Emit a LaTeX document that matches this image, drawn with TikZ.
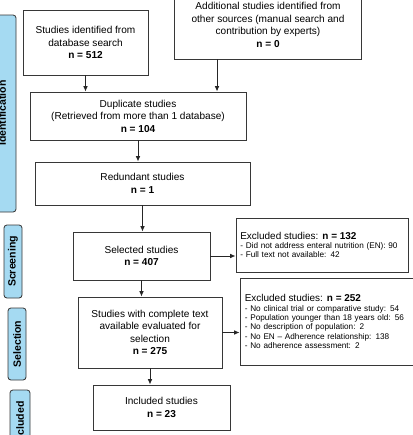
\documentclass[tikz,border=0pt]{standalone}
\usepackage{fontspec}
\setmainfont{Liberation Sans}
\usetikzlibrary{arrows.meta, calc, positioning}
\definecolor{faseAzul}{RGB}{165,218,242}
\definecolor{bordeGris}{RGB}{55,55,55}

\begin{document}
\begin{tikzpicture}[x=0.3mm, y=-0.3mm,
    caja/.style={draw=bordeGris, line width=0.8pt, fill=white, align=center,
        inner sep=2pt, font=\fontsize{8.6}{10.6}\selectfont},
    excluida/.style={caja, align=left, font=\fontsize{7}{8}\selectfont},
    fase/.style={draw=bordeGris, line width=0.7pt, fill=faseAzul, rounded corners=2.5pt},
    etiqueta/.style={rotate=90, font=\bfseries\fontsize{9}{10}\selectfont},
    flecha/.style={-{Latex[length=1.6mm, width=1.4mm]}, line width=0.8pt, draw=black!85}]

    \useasboundingbox (0,0) rectangle (413,435);
    \clip (0,0) rectangle (413,435);

    % FASES
    \filldraw[fase] (-8,15) rectangle (16,212);
    \node[etiqueta] (tIdent) at (2,113) {Identification};
    \filldraw[fase] (4,225) rectangle (22,298);
    \node[etiqueta] (tScreen) at (13,261.5) {Screening};
    \filldraw[fase] (8,308) rectangle (26,380);
    \node[etiqueta] (tSelec) at (17,344) {Selection};
    \filldraw[fase] (10,390) rectangle (30,455);
    \node[etiqueta] (tIncl) at (20,423) {Included};

    % IDENTIFICACION
    \node[caja, minimum width=37.5mm, minimum height=19.5mm] (bases) at (85.5,42.5)
        {Studies identified from\\database search\\\textbf{n = 512}};
    \node[caja, minimum width=56.1mm, minimum height=20.4mm] (otras) at (268,25)
        {Additional studies identified from\\other sources (manual search and\\contribution by experts)\\\textbf{n = 0}};
    \node[caja, minimum width=64.8mm, minimum height=14.4mm] (duplic) at (138,116)
        {Duplicate studies\\(Retrieved from more than 1 database)\\\textbf{n = 104}};
    \node[caja, minimum width=64.5mm, minimum height=12.9mm] (redund) at (142.5,183.5)
        {Redundant studies\\\textbf{n = 1}};

    % SCREENING
    \node[caja, minimum width=41.1mm, minimum height=14.4mm] (selec) at (141.5,256)
        {Selected studies\\\textbf{n = 407}};
    \node[excluida, minimum width=51.6mm, minimum height=16.2mm, text width=49mm] (excl1) at (322,245)
        {{\fontsize{8.5}{9.5}\selectfont Excluded studies: \textbf{n = 132}}\\
         - Did not address enteral nutrition (EN): 90\\
         - Full text not available: 42};

    % SELECCION
    \node[caja, minimum width=43.2mm, minimum height=21.3mm] (complet) at (150,332.5)
        {Studies with complete text\\available evaluated for\\selection\\\textbf{n = 275}};
    \node[excluida, minimum width=51.9mm, minimum height=26.1mm, text width=49mm] (excl2) at (326.5,321.5)
        {{\fontsize{8.5}{9.5}\selectfont Excluded studies: \textbf{n = 252}}\\
         - No clinical trial or comparative study: 54\\
         - Population younger than 18 years old: 56\\
         - No description of population: 2\\
         - No EN -- Adherence relationship: 138\\
         - No adherence assessment: 2};

    % INCLUIDOS
    \node[caja, minimum width=41.1mm, minimum height=13.5mm] (incl) at (161.5,407.5)
        {Included studies\\\textbf{n = 23}};

    % FLECHAS
    \coordinate (bajaOtras) at ($(otras.south west)+(43,0)$);
    \draw[flecha] (bases.south) -- (bases.south |- duplic.north);
    \draw[flecha] (bajaOtras) -- (bajaOtras |- duplic.north);
    \draw[flecha] (duplic.south) -- (duplic.south |- redund.north);
    \draw[flecha] (redund.south) -- (redund.south |- selec.north);
    \draw[flecha] (selec.south) -- (selec.south |- complet.north);
    \draw[flecha] (complet.south) -- (complet.south |- incl.north);
    \draw[flecha] (selec.east) -- (selec.east -| excl1.west);
    \draw[flecha] (complet.east) -- (complet.east -| excl2.west);
\end{tikzpicture}
\end{document}
